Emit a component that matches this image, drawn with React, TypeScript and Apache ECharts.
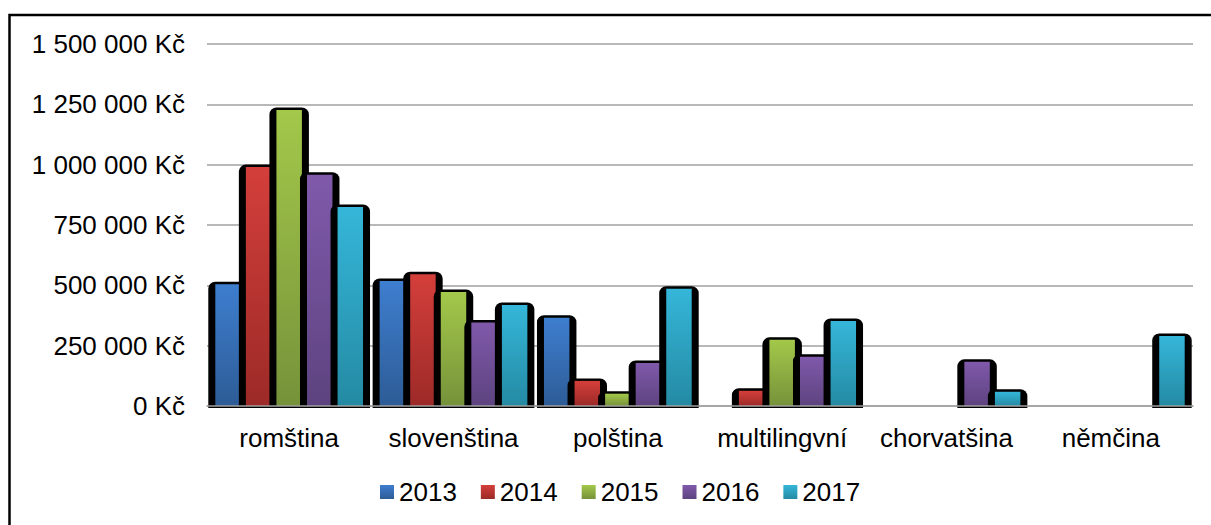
import React, { useEffect, useRef } from "react";
import * as echarts from "echarts";

const categories = ["romština", "slovenština", "polština", "multilingvní", "chorvatšina", "němčina"];
const years = ["2013", "2014", "2015", "2016", "2017"];
const v2013 = [505000, 518000, 366000, 0, 0, 0];
const v2014 = [990000, 546000, 104000, 63000, 0, 0];
const v2015 = [1227000, 472000, 51000, 274000, 0, 0];
const v2016 = [958000, 346000, 178000, 204000, 183000, 0];
const v2017 = [825000, 419000, 486000, 352000, 59000, 290000];
const seriesValues = [v2013, v2014, v2015, v2016, v2017];
const yTicks = [0, 250000, 500000, 750000, 1000000, 1250000, 1500000];

const gradStops: [string, string][] = [
  ["#3e7ecf", "#2d5c96"],
  ["#d43f3b", "#9c2a27"],
  ["#a3c84a", "#76923a"],
  ["#8059ab", "#5d437f"],
  ["#35b6d9", "#248aa3"],
];

const grad = (i: number) =>
  new echarts.graphic.LinearGradient(0, 0, 0, 1, [
    { offset: 0, color: gradStops[i][0] },
    { offset: 1, color: gradStops[i][1] },
  ]);

const fmt = (v: number) =>
  String(v).replace(/\B(?=(\d{3})+(?!\d))/g, " ") + " Kč";

const FONT = "'Liberation Sans', Arial, sans-serif";

export default function App() {
  const ref = useRef<HTMLDivElement>(null);
  useEffect(() => {
    if (!ref.current) return;
    const chart = echarts.init(ref.current, null, { renderer: "svg" });
    const n = years.length;
    const makeRender = (si: number) => (params: any, api: any) => {
      const ci = api.value(0);
      const v = api.value(1);
      if (!v) return null;
      const catW = api.size([1, 0])[0];
      const base = api.coord([ci, 0]);
      const top = api.coord([ci, v]);
      const bw = catW * 0.155;
      const step = catW * 0.186;
      const cx = base[0] + (si - (n - 1) / 2) * step;
      const x = cx - bw / 2;
      const h = base[1] - top[1];
      return {
        type: "group",
        children: [
          {
            type: "rect",
            shape: { x: x - 7, y: top[1] - 2.5, width: bw + 14, height: h + 4.5, r: [7, 7, 0, 0] },
            style: { fill: "#000" },
          },
          {
            type: "rect",
            shape: { x, y: top[1], width: bw, height: h },
            style: { fill: grad(si) },
          },
        ],
      };
    };
    chart.setOption({
      animation: false,
      textStyle: { fontFamily: FONT },
      graphic: [
        {
          type: "polyline",
          shape: { points: [[9.5, 600], [9.5, 15], [1300, 15]] },
          style: { stroke: "#000", lineWidth: 2.5, fill: "none" },
          z: 10,
        },
      ],
      grid: { left: 207, right: 18, top: 44, bottom: 119 },
      legend: {
        data: years,
        left: 380,
        top: 479,
        padding: 0,
        icon: "rect",
        itemWidth: 14,
        itemHeight: 14,
        itemGap: 24,
        textStyle: { fontSize: 26, color: "#000", fontFamily: FONT },
      },
      xAxis: {
        type: "category",
        data: categories,
        z: 5,
        axisLine: { show: true, lineStyle: { color: "#a0a0a0", width: 1.5 } },
        axisTick: { show: false },
        axisLabel: { fontSize: 26, color: "#000", margin: 19, fontFamily: FONT, interval: 0 },
      },
      yAxis: {
        type: "value",
        min: yTicks[0],
        max: yTicks[yTicks.length - 1],
        interval: yTicks[1] - yTicks[0],
        axisLine: { show: false },
        axisTick: { show: false },
        splitLine: { lineStyle: { color: "#a0a0a0", width: 1.5 } },
        axisLabel: { fontSize: 26, color: "#000", margin: 22, fontFamily: FONT, formatter: fmt },
      },
      series: years.map((y, si) => ({
        name: y,
        type: "custom",
        renderItem: makeRender(si),
        itemStyle: { color: grad(si) },
        encode: { x: 0, y: 1 },
        data: seriesValues[si].map((v, ci) => [ci, v]),
      })),
    });
    return () => chart.dispose();
  }, []);
  return (
    <div
      ref={ref}
      style={{ position: "fixed", left: 0, top: 0, width: 1211, height: 525, background: "#fff" }}
    />
  );
}
